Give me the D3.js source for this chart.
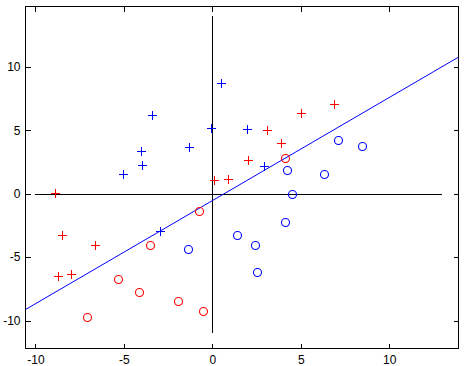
<!DOCTYPE html>
<html>
<head>
<meta charset="utf-8">
<script src="https://cdn.jsdelivr.net/npm/d3@7"></script>
<style>
  html, body { margin: 0; padding: 0; background: #fff; }
  svg { display: block; }
  text { font-family: "Liberation Sans", Arial, sans-serif; font-size: 12px; fill: #000; }
</style>
</head>
<body>
<svg id="chart" width="466" height="366"></svg>
<script>
// ---- data ----
const xTicks = [-10, -5, 0, 5, 10];
const yTicks = [-10, -5, 0, 5, 10];
const xLimits = [-10.56, 13.92];
const yLimits = [-12.2, 14.75];

const bluePlusX = [0.49, -3.38, -4.05, -3.99, -5.06, -1.32, -0.07, 1.94, 2.94, -2.95];
const bluePlusY = [8.71, 6.22, 3.39, 2.23, 1.57, 3.70, 5.17, 5.12, 2.15, -2.94];

const redPlusX = [0.11, 0.90, 3.11, 5.01, 6.86, 3.88, 2.03, -8.87, -8.47, -6.64, -8.70, -7.98];
const redPlusY = [1.10, 1.18, 5.04, 6.35, 7.09, 3.98, 2.68, 0.08, -3.23, -4.02, -6.49, -6.35];

const redCircleX = [4.12, -0.77, -3.50, -5.31, -4.16, -1.95, -0.51, -7.06];
const redCircleY = [2.83, -1.37, -4.07, -6.69, -7.75, -8.43, -9.24, -9.74];

const blueCircleX = [4.24, 7.12, 8.44, 6.33, -1.39, 1.38, 4.52, 4.12, 2.43, 2.54];
const blueCircleY = [1.89, 4.20, 3.72, 1.57, -4.33, -3.23, 0.00, -2.20, -4.02, -6.14];

// separating line end points
const lineX = [-10.56, 13.92];
const lineY = [-9.13, 10.76];

// coordinate cross
const hAxisX = [-10, 13];
const vAxisY = [-11, 14];

// ---- drawing ----
const svg = d3.select("#chart");
const L = 25.5, R = 458.5, T = 6.5, B = 348.5;

const x = d3.scaleLinear().domain(xLimits).range([L, R]);
const y = d3.scaleLinear().domain(yLimits).range([B, T]);

svg.append("clipPath").attr("id", "clip")
  .append("rect").attr("x", L).attr("y", T).attr("width", R - L).attr("height", B - T);

const plot = svg.append("g").attr("clip-path", "url(#clip)");

// black cross lines
plot.append("line")
  .attr("x1", x(hAxisX[0])).attr("x2", x(hAxisX[1]))
  .attr("y1", Math.round(y(0)) + 0.5).attr("y2", Math.round(y(0)) + 0.5)
  .attr("stroke", "#000").attr("stroke-width", 1).attr("shape-rendering", "crispEdges");
plot.append("line")
  .attr("x1", Math.round(x(0)) + 0.5).attr("x2", Math.round(x(0)) + 0.5)
  .attr("y1", y(vAxisY[0])).attr("y2", y(vAxisY[1]))
  .attr("stroke", "#000").attr("stroke-width", 1).attr("shape-rendering", "crispEdges");

// blue separating line
const lineData = lineX.map((v, i) => [v, lineY[i]]);
plot.append("path")
  .datum(lineData)
  .attr("d", d3.line().x(d => x(d[0])).y(d => y(d[1])))
  .attr("fill", "none").attr("stroke", "#0000ff").attr("stroke-width", 1);

// markers
function plusMarks(xs, ys, color) {
  const pts = xs.map((v, i) => [v, ys[i]]);
  const s = 4.5;
  plot.append("g").selectAll("path").data(pts).join("path")
    .attr("d", d => {
      const cx = Math.round(x(d[0])) + 0.5, cy = Math.round(y(d[1])) + 0.5;
      return `M${cx - s},${cy}H${cx + s}M${cx},${cy - s}V${cy + s}`;
    })
    .attr("stroke", color).attr("stroke-width", 1).attr("fill", "none")
    .attr("shape-rendering", "crispEdges");
}
function circleMarks(xs, ys, color) {
  const pts = xs.map((v, i) => [v, ys[i]]);
  plot.append("g").selectAll("circle").data(pts).join("circle")
    .attr("cx", d => Math.round(x(d[0])) + 0.5).attr("cy", d => Math.round(y(d[1])) + 0.5).attr("r", 4)
    .attr("stroke", color).attr("stroke-width", 1.1).attr("fill", "none");
}
plusMarks(bluePlusX, bluePlusY, "#0000ff");
plusMarks(redPlusX, redPlusY, "#ff0000");
circleMarks(redCircleX, redCircleY, "#ff0000");
circleMarks(blueCircleX, blueCircleY, "#0000ff");

// axes box with inward ticks on all four sides
const fmt = d => d < 0 ? "-" + Math.abs(d) : String(d);
const gB = svg.append("g").attr("transform", `translate(0,${B})`)
  .call(d3.axisBottom(x).tickValues(xTicks).tickSizeInner(-5).tickSizeOuter(0).tickPadding(7).tickFormat(fmt));
const gT = svg.append("g").attr("transform", `translate(0,${T})`)
  .call(d3.axisTop(x).tickValues(xTicks).tickSizeInner(-5).tickSizeOuter(0).tickFormat(""));
const gL = svg.append("g").attr("transform", `translate(${L},0)`)
  .call(d3.axisLeft(y).tickValues(yTicks).tickSizeInner(-5).tickSizeOuter(0).tickPadding(5).tickFormat(fmt));
const gR = svg.append("g").attr("transform", `translate(${R},0)`)
  .call(d3.axisRight(y).tickValues(yTicks).tickSizeInner(-5).tickSizeOuter(0).tickFormat(""));

[gB, gT, gL, gR].forEach(g => {
  g.selectAll(".domain").remove();
  g.selectAll("line").attr("stroke", "#000").attr("shape-rendering", "crispEdges");
  g.selectAll("text").attr("font-family", "Liberation Sans, Arial, sans-serif").attr("font-size", 12).attr("fill", "#000");
});

svg.append("rect").attr("x", L).attr("y", T).attr("width", R - L).attr("height", B - T)
  .attr("fill", "none").attr("stroke", "#000").attr("stroke-width", 1).attr("shape-rendering", "crispEdges");
</script>
</body>
</html>
